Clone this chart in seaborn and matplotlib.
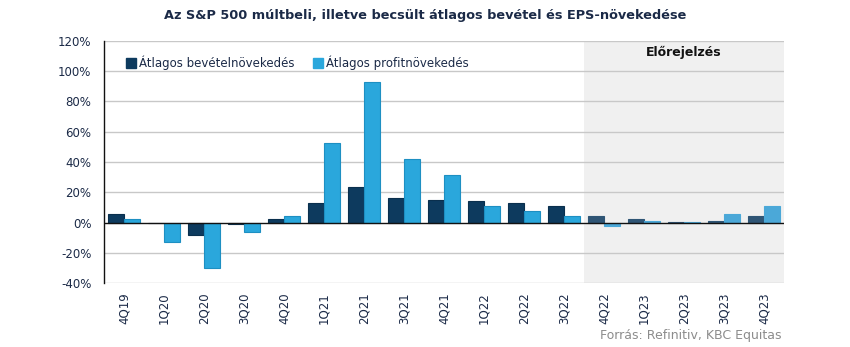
import matplotlib
matplotlib.use("Agg")
import matplotlib.pyplot as plt
import matplotlib.ticker as mticker
from matplotlib.lines import Line2D
import seaborn as sns
import pandas as pd

# Quarterly growth figures (percent)
quarters = ["4Q19", "1Q20", "2Q20", "3Q20", "4Q20", "1Q21", "2Q21", "3Q21",
            "4Q21", "1Q22", "2Q22", "3Q22", "4Q22", "1Q23", "2Q23", "3Q23", "4Q23"]
revenue_growth = [5.9, -0.6, -8.1, -0.7, 2.6, 13.2, 23.7, 16.5, 15.2, 13.9, 13.2,
                  11.2, 4.0, 2.6, 0.2, 0.7, 4.0]
profit_growth = [2.6, -12.8, -29.9, -6.2, 4.0, 52.7, 92.8, 42.1, 31.7, 11.2, 7.9,
                 4.0, -2.4, 0.7, 0.2, 5.3, 10.6]
series_names = ["Átlagos bevételnövekedés", "Átlagos profitnövekedés"]
forecast_start = "4Q22"
y_ticks = [-40, -20, 0, 20, 40, 60, 80, 100, 120]

title = "Az S&P 500 múltbeli, illetve becsült átlagos bevétel és EPS-növekedése"
forecast_label = "Előrejelzés"
source = "Forrás: Refinitiv, KBC Equitas"

navy = "#0d3a5e"
blue = "#2aa7dc"
navy_fc = "#2f5575"
blue_fc = "#4ba8d8"
text_col = "#1b2a47"

df = pd.DataFrame({
    "quarter": quarters * 2,
    "value": revenue_growth + profit_growth,
    "series": [series_names[0]] * len(quarters) + [series_names[1]] * len(quarters),
})

sns.set_theme(style="white")
plt.rcParams["font.family"] = ["DejaVu Sans"]

fig = plt.figure(figsize=(8.5, 3.47), dpi=100)
ax = fig.add_axes([104 / 850, 1 - 283 / 347, 680 / 850, 242 / 347])

sns.barplot(data=df, x="quarter", y="value", hue="series", order=quarters,
            hue_order=series_names, palette=[navy, blue], saturation=1,
            width=0.8, linewidth=0.8, ax=ax, legend=False, zorder=3)

fc_idx = quarters.index(forecast_start)
edge_cols = ["#0a2f4d", "#1d8fc2"]
fc_cols = [navy_fc, blue_fc]
for k, cont in enumerate(ax.containers):
    for i, patch in enumerate(cont.patches):
        patch.set_edgecolor(edge_cols[k])
        if i >= fc_idx:
            patch.set_facecolor(fc_cols[k])
            patch.set_edgecolor(fc_cols[k])

ax.set_xlim(-0.5, len(quarters) - 0.5)
ax.set_ylim(-40, 120)
ax.set_yticks(y_ticks)
ax.yaxis.set_major_formatter(mticker.FuncFormatter(lambda v, p: f"{v:.0f}%"))
ax.axvspan(fc_idx - 0.5, len(quarters) - 0.5, color="#f0f0f0", zorder=0, lw=0)
for v in y_ticks:
    if v != 0:
        ax.axhline(v, color="#c8c8c8", lw=1.0, zorder=1)
ax.axhline(0, color="#111111", lw=1.0, zorder=4)

for s in ["top", "right", "bottom"]:
    ax.spines[s].set_visible(False)
ax.spines["left"].set_color("#111111")
ax.spines["left"].set_linewidth(1.0)
ax.spines["left"].set_zorder(5)

ax.set_xlabel("")
ax.set_ylabel("")
ax.tick_params(axis="x", rotation=90, labelsize=8.5, colors=text_col, length=0, pad=7)
ax.tick_params(axis="y", labelsize=8.5, colors=text_col, length=0, pad=9)

handles = [Line2D([0], [0], marker="s", linestyle="", markersize=6.5,
                  markerfacecolor=c, markeredgecolor=c) for c in [navy, blue]]
ax.legend(handles, series_names, loc="upper left", bbox_to_anchor=(0.018, 0.985),
          ncol=2, frameon=False, fontsize=8.5, handlelength=0.7, handletextpad=0.35,
          columnspacing=1.6, labelcolor=text_col)

ax.text((fc_idx - 0.5 + len(quarters) - 0.5) / 2, 117, forecast_label,
        ha="center", va="top", fontsize=9, fontweight="bold", color="#111111")

fig.text(0.5, 1 - 15 / 347, title, ha="center", va="center", fontsize=9.3,
         fontweight="bold", color=text_col)
fig.text(782 / 850, 1 - 336 / 347, source, ha="right", va="center", fontsize=9,
         color="#8c8c8c")

fig.savefig("out.png", dpi=100)
